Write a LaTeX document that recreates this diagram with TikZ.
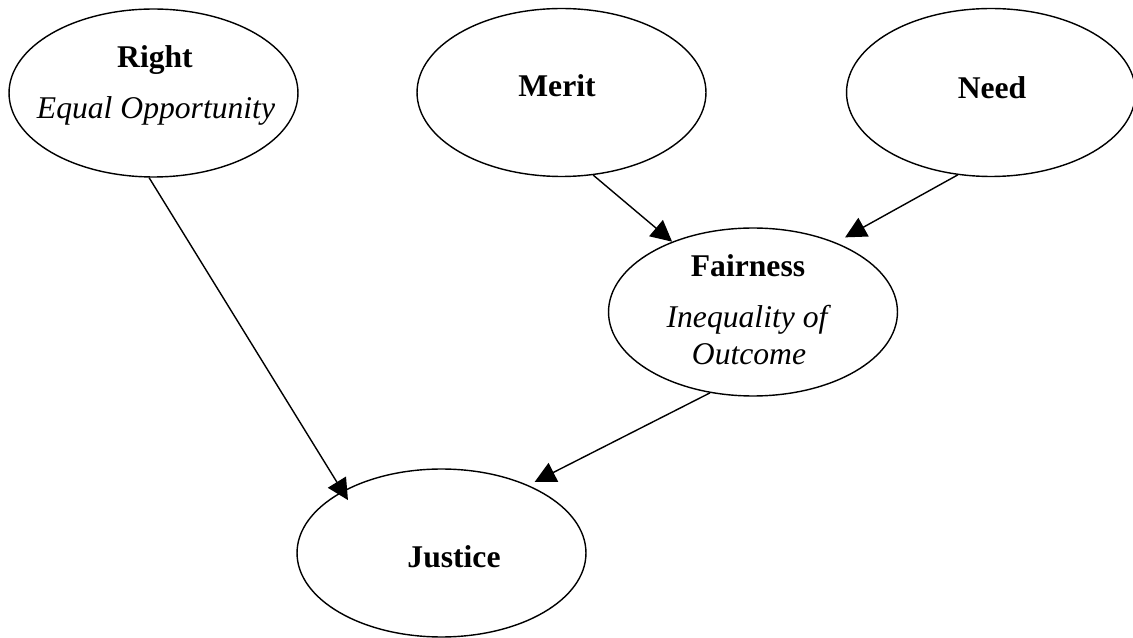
\documentclass[tikz,border=0pt]{standalone}
\usepackage{fontspec}
\setmainfont{Liberation Serif}
\usetikzlibrary{arrows.meta,shapes.geometric}

\begin{document}
\begin{tikzpicture}[x=0.02cm, y=-0.02cm,
	bubble/.style={draw, ellipse, line width=0.8pt, inner sep=0pt,
		minimum width=5.78cm, minimum height=3.36cm},
	title/.style={anchor=base, inner sep=0pt, font=\fontsize{18}{21}\selectfont\bfseries},
	gloss/.style={anchor=base, inner sep=0pt, font=\fontsize{18}{21}\selectfont\itshape},
	link/.style={-{Triangle[length=12pt, width=12pt]}, line width=0.8pt}]
	\useasboundingbox (0,0) rectangle (1133,638);
	% the five ellipses
	\node[bubble] (right) at (153.5,93) {};
	\node[bubble] (merit) at (561.5,92.5) {};
	\node[bubble] (need) at (991,92.5) {};
	\node[bubble] (fairness) at (753,312) {};
	\node[bubble] (justice) at (441.5,553) {};
	% texts inside them
	\node[title] (right-t) at (155,68) {Right};
	\node[gloss] (right-g) at (156,119) {Equal Opportunity};
	\node[title] (merit-t) at (557,97) {Merit};
	\node[title] (need-t) at (992,99) {Need};
	\node[title] (fairness-t) at (748,277) {Fairness};
	\node[gloss] (fairness-g) at (747,328) {Inequality of};
	\node[gloss] (fairness-h) at (749,365) {Outcome};
	\node[title] (justice-t) at (454,567) {Justice};
	% arrows
	\draw[link, shorten >=-6pt] (right.-93) -- (justice.148);
	\draw[link] (merit.-69) -- (fairness.139);
	\draw[link, shorten >=6pt] (need.-112) -- (fairness.40);
	\draw[link, shorten >=4pt] (fairness.-118) -- (justice.38);
\end{tikzpicture}
\end{document}
